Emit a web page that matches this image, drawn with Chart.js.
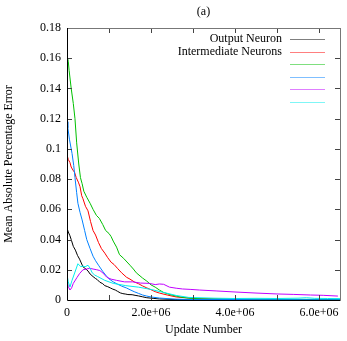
<!DOCTYPE html>
<html>
<head>
<meta charset="utf-8">
<script src="https://cdn.jsdelivr.net/npm/chart.js@4"></script>
<style>
html,body{margin:0;padding:0;background:#fff;}
#wrap{width:347px;height:341px;position:relative;}
</style>
</head>
<body>
<div id="wrap"><canvas id="c" width="347" height="341"></canvas></div>
<script>
// ---- data (update numbers, values) ----
const chartTitle = "(a)";
const xTitle = "Update Number";
const yTitle = "Mean Absolute Percentage Error";
const seriesLabels = ["Output Neuron", "Intermediate Neurons", "", "", "", ""];
const seriesColors = ["#000000", "#ff0000", "#00c000", "#0080ff", "#c000ff", "#00eeee"];

const xTicks = [0, 1e6, 2e6, 3e6, 4e6, 5e6, 6e6];
const xTickLabels = ["0", "", "2.0e+06", "", "4.0e+06", "", "6.0e+06"];
const yTicks = [0, 0.02, 0.04, 0.06, 0.08, 0.1, 0.12, 0.14, 0.16, 0.18];
const yTickLabels = ["0", "0.02", "0.04", "0.06", "0.08", "0.1", "0.12", "0.14", "0.16", "0.18"];

const blackX = [0, 0.03e6, 0.07e6, 0.1e6, 0.15e6, 0.2e6, 0.25e6, 0.3e6, 0.34e6, 0.38e6, 0.45e6, 0.5e6, 0.55e6, 0.62e6, 0.68e6, 0.72e6, 0.78e6, 0.85e6, 0.9e6, 0.97e6, 1.03e6, 1.09e6, 1.15e6, 1.2e6, 1.27e6, 1.33e6, 1.4e6, 1.45e6, 1.55e6, 1.62e6, 1.7e6, 1.8e6, 1.9e6, 2.05e6, 2.2e6, 2.5e6, 3.0e6, 3.5e6, 4.0e6, 4.5e6, 5.0e6, 5.5e6, 6.0e6, 6.5e6];
const blackY = [0.0476, 0.045, 0.0425, 0.040, 0.0355, 0.033, 0.0295, 0.027, 0.0245, 0.022, 0.0205, 0.0192, 0.0172, 0.0155, 0.0142, 0.0135, 0.0118, 0.0108, 0.0095, 0.0088, 0.0080, 0.0072, 0.0066, 0.0058, 0.0047, 0.0042, 0.0039, 0.0036, 0.0035, 0.0031, 0.0027, 0.0021, 0.0015, 0.0011, 0.0007, 0.0004, 0.0003, 0.0003, 0.0002, 0.0002, 0.0002, 0.0002, 0.0002, 0.0002];

const redX = [0, 0.03e6, 0.07e6, 0.1e6, 0.14e6, 0.18e6, 0.22e6, 0.27e6, 0.31e6, 0.35e6, 0.38e6, 0.44e6, 0.5e6, 0.56e6, 0.62e6, 0.68e6, 0.75e6, 0.82e6, 0.9e6, 0.97e6, 1.05e6, 1.12e6, 1.2e6, 1.3e6, 1.42e6, 1.5e6, 1.6e6, 1.7e6, 1.8e6, 1.9e6, 2.0e6, 2.1e6, 2.2e6, 2.4e6, 2.6e6, 2.85e6, 3.1e6, 3.5e6, 4.0e6, 4.5e6, 5.0e6, 5.5e6, 6.0e6, 6.5e6];
const redY = [0.096, 0.093, 0.091, 0.088, 0.086, 0.0845, 0.081, 0.078, 0.075, 0.069, 0.067, 0.062, 0.059, 0.052, 0.046, 0.043, 0.038, 0.034, 0.031, 0.028, 0.025, 0.0235, 0.021, 0.018, 0.015, 0.0138, 0.012, 0.0108, 0.0093, 0.0080, 0.0068, 0.0055, 0.0046, 0.0032, 0.002, 0.0014, 0.001, 0.0008, 0.0005, 0.0004, 0.0004, 0.0003, 0.0003, 0.0003];

const greenX = [0, 0.03e6, 0.05e6, 0.1e6, 0.15e6, 0.19e6, 0.23e6, 0.28e6, 0.32e6, 0.36e6, 0.4e6, 0.47e6, 0.55e6, 0.62e6, 0.7e6, 0.77e6, 0.85e6, 0.92e6, 1.0e6, 1.05e6, 1.1e6, 1.18e6, 1.25e6, 1.35e6, 1.5e6, 1.58e6, 1.65e6, 1.8e6, 1.9e6, 2.0e6, 2.1e6, 2.2e6, 2.3e6, 2.45e6, 2.6e6, 2.7e6, 2.9e6, 3.2e6, 3.6e6, 4.0e6, 4.5e6, 5.0e6, 5.5e6, 6.0e6, 6.5e6];
const greenY = [0.162, 0.158, 0.152, 0.140, 0.130, 0.120, 0.104, 0.090, 0.081, 0.077, 0.072, 0.068, 0.064, 0.060, 0.056, 0.054, 0.050, 0.046, 0.044, 0.042, 0.039, 0.035, 0.030, 0.0275, 0.023, 0.0205, 0.018, 0.0145, 0.0125, 0.010, 0.0085, 0.0066, 0.005, 0.0036, 0.0026, 0.002, 0.0012, 0.0008, 0.0006, 0.0005, 0.0005, 0.0004, 0.0004, 0.0004, 0.0004];

const blueX = [0, 0.02e6, 0.06e6, 0.12e6, 0.16e6, 0.19e6, 0.23e6, 0.26e6, 0.31e6, 0.36e6, 0.42e6, 0.47e6, 0.55e6, 0.62e6, 0.68e6, 0.75e6, 0.85e6, 0.92e6, 1.0e6, 1.1e6, 1.2e6, 1.3e6, 1.42e6, 1.5e6, 1.6e6, 1.7e6, 1.8e6, 1.9e6, 2.0e6, 2.2e6, 2.6e6, 3.0e6, 3.5e6, 4.0e6, 4.5e6, 5.0e6, 5.5e6, 6.0e6, 6.5e6];
const blueY = [0.118, 0.114, 0.106, 0.097, 0.089, 0.081, 0.071, 0.064, 0.058, 0.053, 0.046, 0.040, 0.034, 0.029, 0.026, 0.023, 0.019, 0.0165, 0.014, 0.012, 0.0105, 0.0092, 0.0079, 0.0068, 0.0055, 0.0044, 0.0033, 0.0026, 0.002, 0.0013, 0.0005, 0.0003, 0.0003, 0.0003, 0.0002, 0.0002, 0.0002, 0.0002, 0.0002];

const magentaX = [0, 0.03e6, 0.07e6, 0.11e6, 0.15e6, 0.24e6, 0.3e6, 0.38e6, 0.47e6, 0.54e6, 0.62e6, 0.71e6, 0.78e6, 0.83e6, 0.9e6, 0.95e6, 1.05e6, 1.18e6, 1.37e6, 1.56e6, 1.75e6, 1.96e6, 2.1e6, 2.2e6, 2.3e6, 2.44e6, 2.6e6, 2.75e6, 2.95e6, 3.15e6, 3.55e6, 4.0e6, 4.5e6, 5.0e6, 5.4e6, 5.8e6, 6.1e6, 6.45e6];
const magentaY = [0.013, 0.009, 0.0066, 0.008, 0.011, 0.015, 0.0175, 0.020, 0.0205, 0.021, 0.0205, 0.020, 0.0195, 0.0185, 0.0165, 0.0150, 0.0138, 0.013, 0.012, 0.012, 0.0112, 0.011, 0.0102, 0.0106, 0.0104, 0.0085, 0.0078, 0.0073, 0.007, 0.0066, 0.006, 0.0053, 0.0046, 0.004, 0.0037, 0.0033, 0.0031, 0.0026];

const cyanX = [0, 0.03e6, 0.07e6, 0.12e6, 0.19e6, 0.26e6, 0.33e6, 0.38e6, 0.43e6, 0.5e6, 0.55e6, 0.6e6, 0.66e6, 0.73e6, 0.9e6, 1.1e6, 1.4e6, 1.7e6, 2.0e6, 2.3e6, 2.6e6, 2.9e6, 3.5e6, 4.0e6, 4.5e6, 5.0e6, 5.5e6, 5.7e6, 5.9e6, 6.2e6, 6.5e6];
const cyanY = [0.017, 0.012, 0.0086, 0.013, 0.0185, 0.024, 0.022, 0.0225, 0.022, 0.023, 0.021, 0.018, 0.0165, 0.0155, 0.013, 0.011, 0.0095, 0.0085, 0.007, 0.005, 0.003, 0.0017, 0.0012, 0.001, 0.0011, 0.001, 0.0012, 0.0015, 0.0011, 0.001, 0.0009];

const xMax = 6.5e6;
const yMax = 0.18;

const seriesX = [blackX, redX, greenX, blueX, magentaX, cyanX];
const seriesY = [blackY, redY, greenY, blueY, magentaY, cyanY];

const FONT = "'Liberation Serif', 'Times New Roman', serif";

const datasets = seriesX.map((xs, i) => ({
  label: seriesLabels[i],
  data: xs.map((x, j) => ({x: x, y: seriesY[i][j]})),
  borderColor: seriesColors[i],
  borderWidth: 1,
  pointRadius: 0,
  fill: false,
  tension: 0,
  order: seriesX.length - i
}));

const framePlugin = {
  id: 'frame',
  afterDatasetsDraw(chart) {
    const ctx = chart.ctx;
    const a = chart.chartArea;
    const xs = chart.scales.x, ys = chart.scales.y;
    ctx.save();
    ctx.lineWidth = 1;
    // ticks (inward, mirrored)
    ctx.strokeStyle = '#444';
    ctx.beginPath();
    xTicks.forEach(v => {
      if (v <= 0 || v >= xMax) return;
      const px = Math.round(xs.getPixelForValue(v)) + 0.5;
      ctx.moveTo(px, a.bottom); ctx.lineTo(px, a.bottom - 5);
      ctx.moveTo(px, a.top); ctx.lineTo(px, a.top + 5);
    });
    yTicks.forEach(v => {
      if (v <= 0 || v >= yMax) return;
      const py = Math.round(ys.getPixelForValue(v)) + 0.5;
      ctx.moveTo(a.left, py); ctx.lineTo(a.left + 5, py);
      ctx.moveTo(a.right, py); ctx.lineTo(a.right - 5, py);
    });
    ctx.stroke();
    // border
    ctx.strokeStyle = '#777';
    ctx.beginPath();
    ctx.moveTo(a.left, a.top + 0.5); ctx.lineTo(a.right + 0.5, a.top + 0.5);
    ctx.moveTo(a.right + 0.5, a.top); ctx.lineTo(a.right + 0.5, a.bottom);
    ctx.stroke();
    ctx.strokeStyle = '#000';
    ctx.beginPath();
    ctx.moveTo(a.left + 0.5, a.top); ctx.lineTo(a.left + 0.5, a.bottom + 0.5);
    ctx.lineTo(a.right + 0.5, a.bottom + 0.5);
    ctx.stroke();
    // legend
    ctx.font = '12px ' + FONT;
    ctx.textAlign = 'right';
    ctx.textBaseline = 'middle';
    ctx.fillStyle = '#000';
    chart.data.datasets.forEach((d, i) => {
      const y = a.top + 11 + i * 12.5;
      if (d.label) ctx.fillText(d.label, a.right - 58, y);
      ctx.strokeStyle = d.borderColor;
      ctx.globalAlpha = 0.5;
      ctx.beginPath();
      ctx.moveTo(a.right - 50, Math.round(y) + 0.5);
      ctx.lineTo(a.right - 15, Math.round(y) + 0.5);
      ctx.stroke();
      ctx.globalAlpha = 1;
    });
    // title
    ctx.textAlign = 'center';
    ctx.fillText(chartTitle, (a.left + a.right) / 2, 12);
    ctx.restore();
  }
};

new Chart(document.getElementById('c'), {
  type: 'line',
  data: { datasets: datasets },
  options: {
    responsive: false,
    animation: false,
    devicePixelRatio: 1,
    layout: { padding: { top: 28, right: 7, left: 0, bottom: 0 } },
    plugins: { legend: { display: false }, tooltip: { enabled: false }, title: { display: false } },
    scales: {
      x: {
        type: 'linear', min: 0, max: xMax,
        grid: { display: false, drawTicks: false },
        border: { display: false },
        afterBuildTicks: s => { s.ticks = xTicks.map(v => ({ value: v })); },
        ticks: {
          autoSkip: false, maxRotation: 0, padding: 6,
          color: '#000', font: { family: FONT, size: 12 },
          callback: (v) => { const i = xTicks.indexOf(v); return i >= 0 ? xTickLabels[i] : ''; }
        },
        title: { display: true, text: xTitle, color: '#000', font: { family: FONT, size: 12 }, padding: { top: 0, bottom: 4 } },
        afterFit: s => { s.height = 41; }
      },
      y: {
        type: 'linear', min: 0, max: yMax,
        grid: { display: false, drawTicks: false },
        border: { display: false },
        afterBuildTicks: s => { s.ticks = yTicks.map(v => ({ value: v })); },
        ticks: {
          autoSkip: false, padding: 6,
          color: '#000', font: { family: FONT, size: 12 },
          callback: (v) => { const i = yTicks.indexOf(v); return i >= 0 ? yTickLabels[i] : ''; }
        },
        title: { display: true, text: yTitle, color: '#000', font: { family: FONT, size: 12 }, padding: { top: 2, bottom: 0 } },
        afterFit: s => { s.width = 67; }
      }
    }
  },
  plugins: [framePlugin]
});
</script>
</body>
</html>
